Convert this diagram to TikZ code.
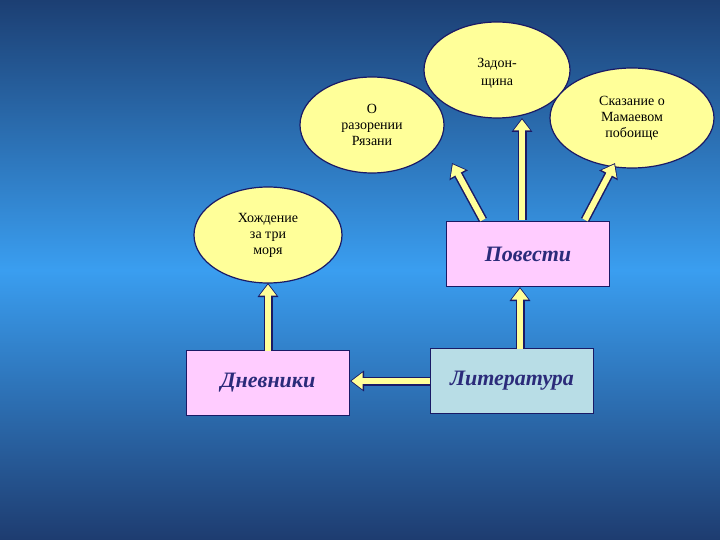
\documentclass[tikz,border=0pt]{standalone}
\usepackage{fontspec}
\setmainfont{Liberation Serif}
\usetikzlibrary{shapes.geometric,arrows.meta}
\definecolor{bgtop}{HTML}{1C3F73}
\definecolor{bgmid}{HTML}{3A9EF0}
\definecolor{bgbot}{HTML}{1E3C70}
\definecolor{ellfill}{HTML}{FFFF99}
\definecolor{pinkfill}{HTML}{FFCCFF}
\definecolor{bluefill}{HTML}{B8DDE6}
\definecolor{edge}{HTML}{1A1A66}
\definecolor{txt}{HTML}{2B2B7A}
\definecolor{arr}{HTML}{FFFF99}
\begin{document}
\begin{tikzpicture}[x=1pt,y=-1pt,
  ell/.style={ellipse,draw=edge,line width=1.2pt,fill=ellfill,font=\fontsize{14}{16}\selectfont,align=center,inner sep=0pt},
  box/.style={rectangle,draw=edge,line width=1.5pt,minimum width=163pt,minimum height=65pt,font=\fontsize{22}{24}\selectfont\bfseries\itshape,text=txt},
  outer/.style={draw=edge,line width=9pt,-{Triangle[length=14pt,width=20pt]},shorten >=0pt},
  inner/.style={draw=arr,line width=6pt,-{Triangle[length=11pt,width=16pt]},shorten >=1.5pt}]
\shade[top color=bgtop,bottom color=bgmid] (0,0) rectangle (720,270);
\shade[top color=bgmid,bottom color=bgbot] (0,270) rectangle (720,540);
\useasboundingbox (0,0) rectangle (720,540);
\node[ell,minimum width=144pt,minimum height=96pt] (ryaz) at (372,125) {О\\разорении\\Рязани};
\node[ell,minimum width=146pt,minimum height=96pt] (zad) at (497,70) {};
\node[font=\fontsize{14}{18}\selectfont,align=center] (zadt) at (497,73) {Задон-\\щина};
\node[ell,minimum width=164pt,minimum height=100pt] (skaz) at (632,118) {Сказание о\\Мамаевом\\побоище};
\node[ell,minimum width=148pt,minimum height=96pt] (hozh) at (268,235) {Хождение\\за три\\моря};
\node[box,fill=pinkfill] (pov) at (528,254) {Повести};
\node[box,fill=pinkfill] (dnev) at (268,383) {Дневники};
\node[box,fill=bluefill] (lit) at (512,381) {Литература};
\coordinate (p1) at (483,220); \coordinate (r1) at (452,163);
\coordinate (p2) at (522,220); \coordinate (z1) at (522,118);
\coordinate (p3) at (585,220); \coordinate (s1) at (615,163);
\coordinate (l1) at (520,349); \coordinate (v1) at (520,287);
\coordinate (l2) at (430,381); \coordinate (d1) at (350,381);
\coordinate (d2) at (268,351); \coordinate (h1) at (268,283);
\foreach \a/\b in {p1/r1,p2/z1,p3/s1,l1/v1,l2/d1,d2/h1}{
  \draw[outer] (\a) -- (\b);
  \draw[inner] (\a) -- (\b);
}
\end{tikzpicture}
\end{document}
